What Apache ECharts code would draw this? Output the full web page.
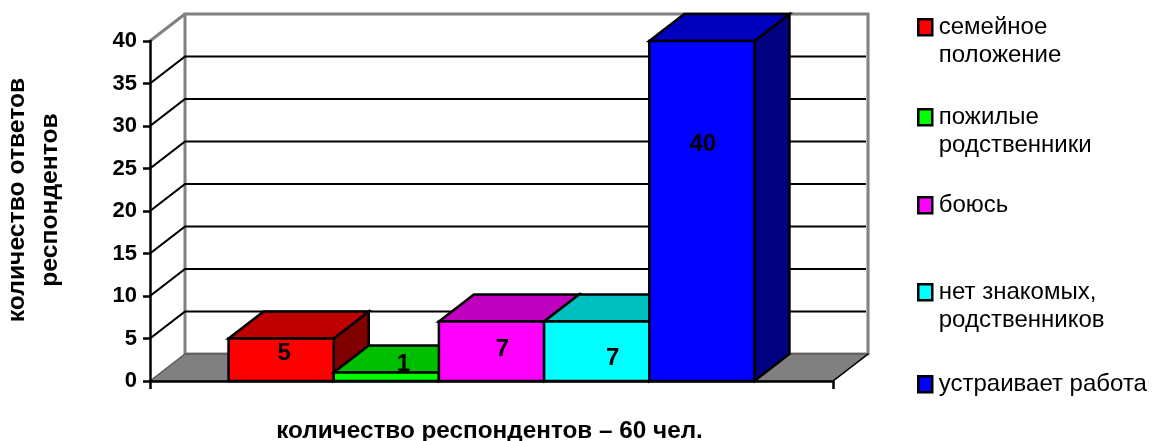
<!DOCTYPE html>
<html><head><meta charset="utf-8">
<style>html,body{margin:0;padding:0;background:#fff}#c{width:1152px;height:441px}</style>
<script src="https://cdn.jsdelivr.net/npm/echarts@6/dist/echarts.min.js"></script>
</head><body><div id="c"></div>
<script>
const categories = [''];
const seriesNames = ['семейное\nположение','пожилые\nродственники','боюсь\n ','нет знакомых,\nродственников','устраивает работа\n '];
const seriesValues = [5,1,7,7,40];
const yTicks = [5,10,15,20,25,30,35];
const yMax = 40, yStep = 5;
const xTitle = 'количество респондентов – 60 чел.';
const yTitle = 'количество ответов\nреспондентов';

const frontColors = ['#ff0000','#00ff00','#ff00ff','#00ffff','#0000ff'];
const topColors   = ['#bf0000','#00bf00','#bf00bf','#00bfbf','#0000bf'];
const sideColors  = ['#800000','#008000','#800080','#008080','#000080'];
const labelNudge  = [[3,-6],[17,-12],[11,-2],[16,7],[1,-67]];
const legendTops  = [12,102,190,277,369];
const DX = 35, DY = -27, BAR_RATIO = 0.154;
const FONT = '"Liberation Sans", Arial, sans-serif';

function poly(points, fill, stroke, w){
  return {type:'polygon', shape:{points}, style:{fill, stroke, lineWidth:w, lineJoin:'miter'}};
}
function wallItem(params, api){
  const p0 = api.coord([0,0]), pt = api.coord([0,yMax]);
  const band = api.size([1,0])[0];
  const l = p0[0]-band/2, r = p0[0]+band/2, b = p0[1], t = pt[1];
  const grey = '#808080';
  const kids = [
    poly([[l+DX,t+DY],[r+DX,t+DY],[r+DX,b+DY],[l+DX,b+DY]],'#fff',grey,3),
    poly([[l,b],[l+DX,b+DY],[r+DX,b+DY],[r,b]],grey,'#5a5a5a',1.5),
    {type:'polyline',shape:{points:[[l,t],[l+DX,t+DY]]},style:{stroke:grey,lineWidth:3,fill:null}},
    {type:'polyline',shape:{points:[[r,b],[r+DX,b+DY]]},style:{stroke:'#000',lineWidth:1.5,fill:null}}
  ];
  yTicks.forEach(v=>{
    const y = api.coord([0,v])[1];
    kids.push({type:'polyline',shape:{points:[[l,y],[l+DX,y+DY],[r+DX-2,y+DY]]},
      style:{stroke:'#000',lineWidth:2.2,fill:null}});
  });
  return {type:'group',children:kids};
}
function barItem(i){
  return function(params, api){
    const v = api.value(1);
    const p0 = api.coord([0,0]), pv = api.coord([0,v]);
    const bw = api.size([1,0])[0]*BAR_RATIO;
    const l = p0[0]+(i-2.5)*bw, r = l+bw, b = p0[1], t = pv[1];
    return {type:'group',children:[
      poly([[r,t],[r+DX,t+DY],[r+DX,b+DY],[r,b]],sideColors[i],'#000',2.5),
      poly([[l,t],[l+DX,t+DY],[r+DX,t+DY],[r,t]],topColors[i],'#000',2.5),
      poly([[l,t],[r,t],[r,b],[l,b]],frontColors[i],'#000',2.5),
      {type:'text',z2:10,style:{text:String(v),x:(l+r)/2+labelNudge[i][0],y:(t+b)/2+labelNudge[i][1],
        align:'center',verticalAlign:'middle',fill:'#000',font:'bold 24px '+FONT}}
    ]};
  };
}
const chart = echarts.init(document.getElementById('c'),null,{renderer:'canvas'});
const series = [{type:'custom',name:'__wall',silent:true,z:1,clip:false,data:[[0,0]],renderItem:wallItem,
  encode:{x:0,y:1}}];
seriesNames.forEach((n,i)=>series.push({type:'custom',name:n,z:2+i,clip:false,silent:true,
  itemStyle:{color:frontColors[i]},renderItem:barItem(i),encode:{x:0,y:1},data:[[0,seriesValues[i]]]}));
chart.setOption({
  animation:false,
  backgroundColor:'#fff',
  grid:{left:150,top:41,width:683,height:340,containLabel:false,outerBoundsMode:'none'},
  xAxis:{type:'category',data:categories,z:10,
    name:xTitle,nameLocation:'middle',nameGap:50,
    nameTextStyle:{fontWeight:'bold',fontSize:24.3,fontFamily:FONT,color:'#000',verticalAlign:'middle',lineHeight:28,padding:[0,4,0,0]},
    axisLine:{lineStyle:{color:'#000',width:2.5}},
    axisTick:{show:true,length:8,alignWithLabel:false,lineStyle:{color:'#000',width:2.5}},
    axisLabel:{show:false},splitLine:{show:false}},
  yAxis:{type:'value',min:0,max:yMax,interval:yStep,z:10,
    axisLine:{show:true,lineStyle:{color:'#000',width:2.5}},
    axisTick:{show:true,length:7,lineStyle:{color:'#000',width:2.5}},
    axisLabel:{margin:13,color:'#000',fontSize:22,fontWeight:'bold',fontFamily:FONT},
    splitLine:{show:false}},
  legend:seriesNames.map((n,i)=>({orient:'vertical',left:916,top:legendTops[i],padding:0,itemGap:0,
    itemWidth:16,itemHeight:56,data:[n],selectedMode:false,
    icon:'path://M0 0L0.01 0M1 6H15V22H1ZM0 56L0.01 56',
    itemStyle:{borderColor:'#000',borderWidth:2.5},
    textStyle:{color:'#000',fontSize:24,fontFamily:FONT,lineHeight:28,padding:[0,0,0,1]}})),
  graphic:[{type:'text',rotation:Math.PI/2,x:34,y:200,silent:true,
    style:{text:yTitle,align:'center',verticalAlign:'middle',lineHeight:33,
      fill:'#000',font:'bold 24.7px '+FONT}}],
  series
});
</script></body></html>
